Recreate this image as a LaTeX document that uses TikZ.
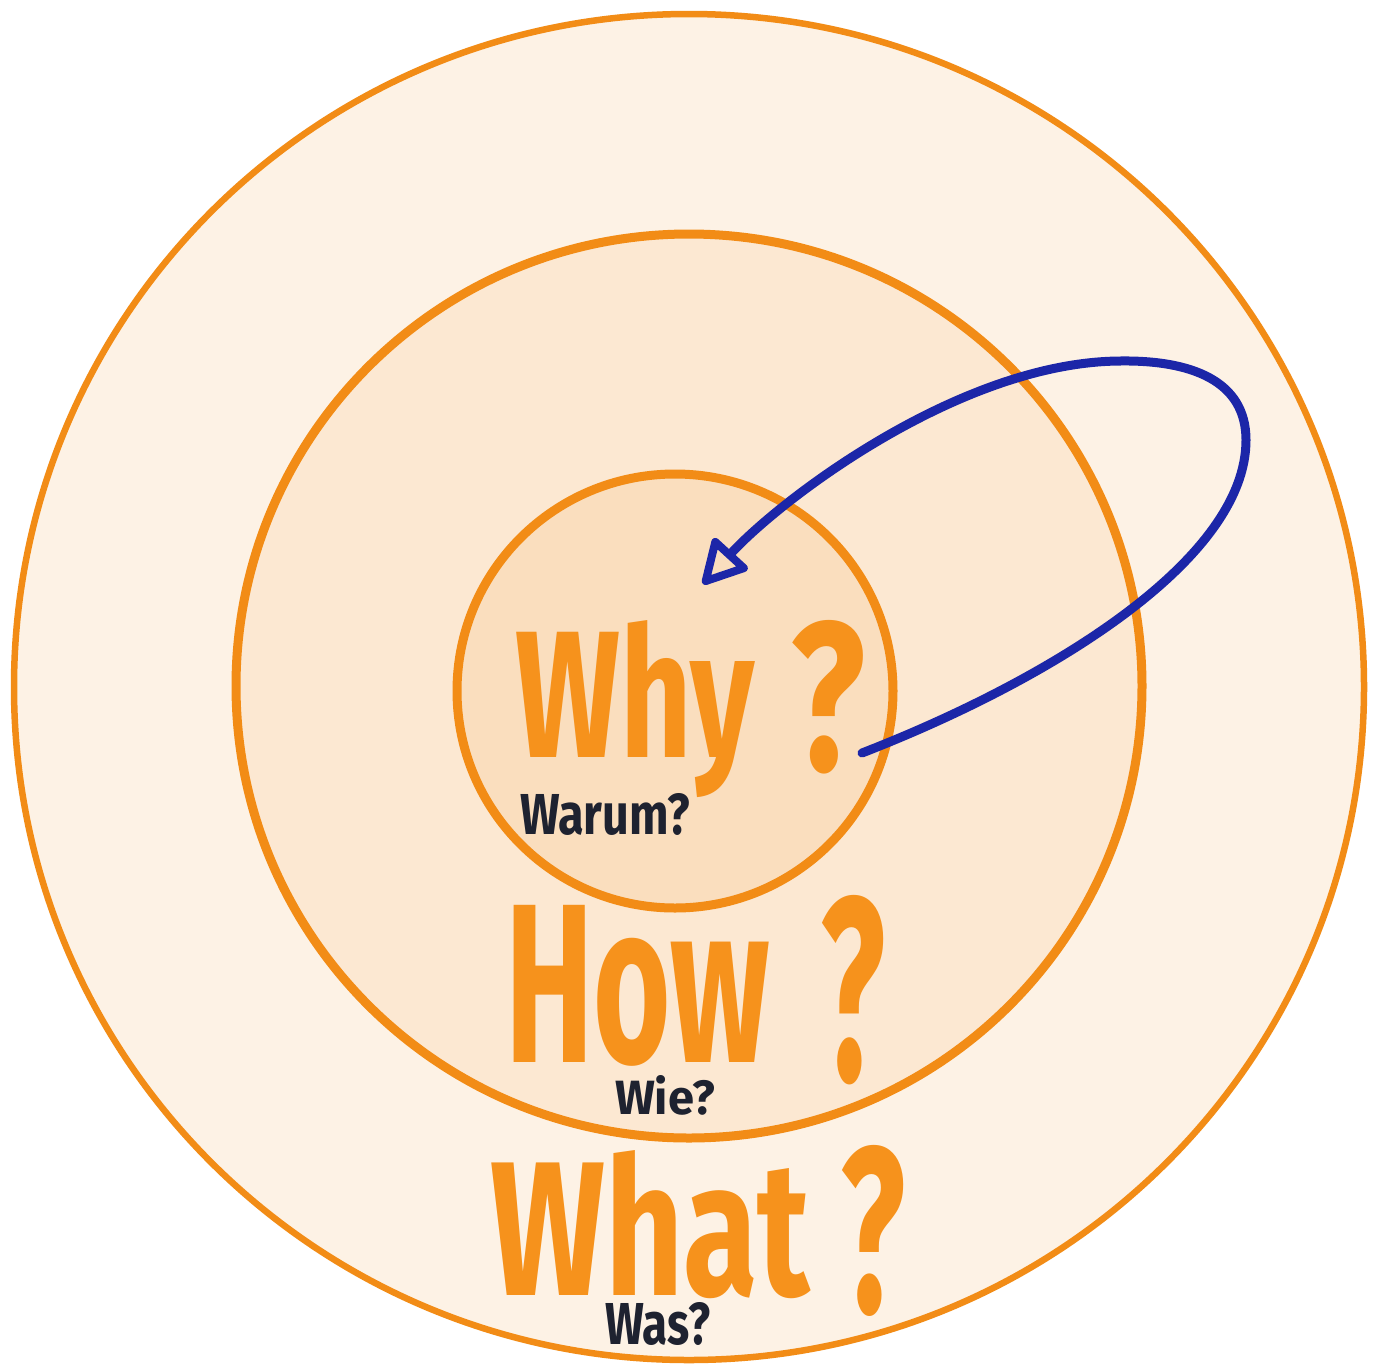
\documentclass[tikz,border=0pt]{standalone}
\usepackage{fontspec}
\usepackage{graphicx}
\setmainfont{Fira Sans}
\usetikzlibrary{arrows.meta}
\definecolor{ring}{RGB}{242,140,22}
\definecolor{fillA}{RGB}{253,242,229}
\definecolor{fillB}{RGB}{252,232,210}
\definecolor{fillC}{RGB}{250,222,190}
\definecolor{hand}{RGB}{246,146,28}
\definecolor{ink}{RGB}{30,34,48}
\definecolor{pen}{RGB}{28,38,168}
\newcommand{\fitword}[3]{\resizebox{#1pt}{#2pt}{#3}}
\begin{document}
\begin{tikzpicture}[x=1pt,y=-1pt,
  word/.style={inner sep=0pt,outer sep=0pt,anchor=base west,text=hand,font=\bfseries},
  sub/.style={inner sep=0pt,outer sep=0pt,anchor=base west,text=ink,font=\bfseries}]
\useasboundingbox[fill=white] (0,0) rectangle (1378,1363);
% rings
\draw[ring, line width=6.5pt, fill=fillA] (689,687) ellipse [x radius=675pt, y radius=673pt];
\draw[ring, line width=9pt, fill=fillB] (689,686) ellipse [x radius=453pt, y radius=452pt];
\draw[ring, line width=9pt, fill=fillC] (675,691) ellipse [x radius=218pt, y radius=217pt];
% words
\node[word] (why) at (515,757) {\fitword{240}{137}{Why}};
\node[word] (whyq) at (790,770) {\fitword{75}{150}{?}};
\node[sub] (warum) at (520,834) {\fitword{170}{41}{Warum?}};
\node[word] (how) at (505,1062) {\fitword{265}{157}{How}};
\node[word] (howq) at (820,1080) {\fitword{65}{185}{?}};
\node[sub] (wie) at (615,1114) {\fitword{100}{39}{Wie?}};
\node[word] (what) at (490,1295) {\fitword{320}{145}{What}};
\node[word] (whatq) at (840,1312) {\fitword{65}{167}{?}};
\node[sub] (was) at (605,1344) {\fitword{105}{42}{Was?}};
% arrow
\coordinate (start) at (862,753);
\coordinate (tip) at (703,584);
\draw[pen, line width=9pt, line cap=round, line join=round,
  -{Triangle[open,length=48pt,width=50pt,line width=8pt,round]}]
  (start) .. controls (1050,680) and (1246,560) .. (1246,440)
          .. controls (1246,380) and (1190,360) .. (1120,361)
          .. controls (960,362) and (780,500) .. (tip);
\end{tikzpicture}
\end{document}
